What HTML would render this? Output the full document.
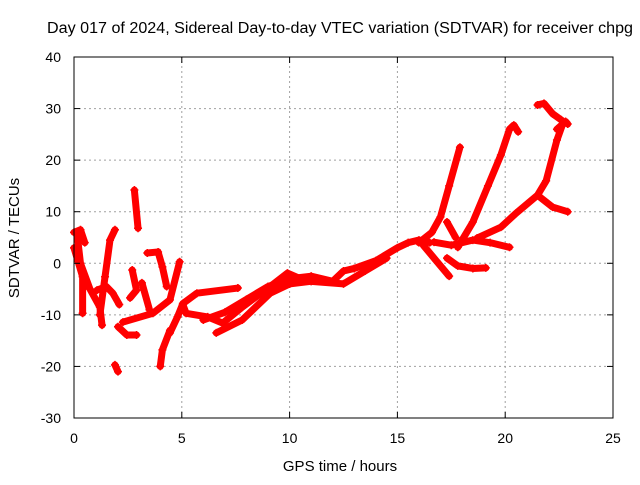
<!DOCTYPE html>
<html><head><meta charset="utf-8"><style>
body{margin:0;background:#fff}
text{font-family:"Liberation Sans",sans-serif;font-size:14px;fill:#000}
</style></head><body>
<svg id="c" width="640" height="480" xmlns="http://www.w3.org/2000/svg">
<rect width="640" height="480" fill="#fff"/>
<text x="47" y="33" textLength="586" lengthAdjust="spacingAndGlyphs" style="font-size:15.5px">Day 017 of 2024, Sidereal Day-to-day VTEC variation (SDTVAR) for receiver chpg</text>
<text x="340" y="471" text-anchor="middle" style="font-size:15px">GPS time / hours</text>
<text transform="translate(19,238) rotate(-90)" text-anchor="middle" style="font-size:15px">SDTVAR / TECUs</text>
<g id="grid"></g><g id="series"></g><g id="axes"></g>
</svg>
<script>
const xTicks=[0,5,10,15,20,25];
const yTicks=[-30,-20,-10,0,10,20,30,40];
const trackMain=[[6,-11],[7,-9.5],[8,-7],[9,-4.5],[10,-3],[11,-2.5],[12,-3.5],[12.5,-1.5],[13,-1],[14,0.5],[15,3],[15.5,4],[16,4.5],[16.5,4]];
const trackMain2=[[10,-4],[11,-3.5],[12.5,-4],[13.5,-1.5],[14.5,1]];
const trackUp1=[[16,4],[16.6,6],[17,9],[17.4,15],[17.9,22.5]];
const trackDown1=[[16.2,3.5],[16.8,0.5],[17.4,-2.5]];
const trackUp2=[[17.8,3.1],[18.5,8],[19.2,15],[19.8,21],[20.2,26],[20.4,26.8],[20.6,25.5]];
const trackFlat=[[16.7,4.1],[17.5,3.5],[18.5,4.5],[19.3,4],[20.2,3.1]];
const trackLow=[[17.3,1],[17.8,-0.5],[18.5,-1],[19.1,-0.9]];
const trackShort=[[17.3,8],[17.7,5]];
const trackUp3=[[18.7,4.9],[19.8,7],[20.5,9.7],[21.5,13.2],[21.9,16],[22.4,23.9],[22.7,27.4],[22.6,27.8],[22.2,29],[21.8,31],[21.5,30.7]];
const trackBranch=[[21.5,13.2],[22.2,10.9],[22.9,10]];
const trackHook=[[22.4,26],[22.8,27.5],[22.9,27]];
const trackL1=[[0.14,5.8],[0.3,0],[0.74,-5],[1.2,-8.5],[1.3,-12]];
const trackL2=[[0,3],[0.4,-2.6],[0.4,-9.7]];
const trackL3=[[1.07,-5.2],[1.5,-4.5],[1.8,-5.8],[2.1,-8]];
const trackL4=[[1.2,-10],[1.44,-2.6],[1.67,4.5],[1.9,6.5]];
const trackL5=[[2.8,14.2],[2.97,6.8]];
const trackL6=[[1.9,-19.7],[2.04,-21]];
const trackL7=[[2.04,-12.3],[2.45,-13.9],[2.9,-13.9]];
const trackL8=[[2.27,-11.4],[3.66,-9.7],[4.45,-7.1],[4.9,0.3]];
const trackL9=[[3.4,2],[3.9,2.2],[4.1,-0.7],[4.3,-4.5]];
const trackL10=[[2.7,-1.3],[2.9,-5.2],[2.6,-6.7]];
const trackL11=[[3.15,-3.8],[3.5,-9]];
const trackL12=[[4.45,-13],[4.1,-16.8],[4.0,-20]];
const trackL13=[[4.45,-13.5],[4.8,-10.4],[5.05,-7.8],[5.7,-5.8],[7.6,-4.8]];
const trackL14=[[5.05,-8],[5.2,-9.7],[6.2,-10.4],[6.9,-11.6],[7.8,-8.5],[9.1,-4.5],[9.9,-1.9],[10.5,-3]];
const trackL15=[[6.6,-13.5],[7.8,-11],[9.1,-5.8],[10,-4]];
const trackL16=[[0,6],[0.3,6.5],[0.5,4]];
const tracks=[trackMain,trackMain2,trackUp1,trackDown1,trackUp2,trackFlat,trackLow,trackShort,trackUp3,trackBranch,trackHook,trackL1,trackL2,trackL3,trackL4,trackL5,trackL6,trackL7,trackL8,trackL9,trackL10,trackL11,trackL12,trackL13,trackL14,trackL15,trackL16];
const X0=74,X1=613,Y0=418,Y1=57,xmin=0,xmax=25,ymin=-30,ymax=40;
const sx=v=>X0+(v-xmin)/(xmax-xmin)*(X1-X0);
const sy=v=>Y0-(v-ymin)/(ymax-ymin)*(Y0-Y1);
const NS="http://www.w3.org/2000/svg";
function mk(t,a,p){const e=document.createElementNS(NS,t);for(const k in a)e.setAttribute(k,a[k]);p.appendChild(e);return e;}
const G=document.getElementById('grid'),S=document.getElementById('series'),A=document.getElementById('axes');
xTicks.forEach(t=>{const x=sx(t);
 if(t>xmin&&t<xmax){const l=mk('line',{x1:x,y1:Y0,x2:x,y2:Y1,stroke:'#a0a0a0','stroke-dasharray':'2,3'},G);
 
 }
 mk('line',{x1:x,y1:Y0,x2:x,y2:Y0-6,stroke:'#000'},A);mk('line',{x1:x,y1:Y1,x2:x,y2:Y1+6,stroke:'#000'},A);
 const tx=mk('text',{x:x,y:Y0+25,'text-anchor':'middle'},A);tx.textContent=t;
 
 });
yTicks.forEach(t=>{const y=sy(t);
 if(t>ymin&&t<ymax){const l=mk('line',{x1:X0,y1:y,x2:X1,y2:y,stroke:'#a0a0a0','stroke-dasharray':'2,3'},G);
 
 }
 mk('line',{x1:X0,y1:y,x2:X0+6,y2:y,stroke:'#000'},A);mk('line',{x1:X1,y1:y,x2:X1-6,y2:y,stroke:'#000'},A);
 const tx=mk('text',{x:X0-13,y:y+5,'text-anchor':'end'},A);tx.textContent=t;
 
 });
const fr=mk('rect',{x:X0,y:Y1,width:X1-X0,height:Y0-Y1,fill:'none',stroke:'#000'},A);


tracks.forEach(tr=>{
 const pl=mk('polyline',{points:tr.map(p=>sx(p[0])+','+sy(p[1])).join(' '),fill:'none',stroke:'#f00','stroke-width':7,'stroke-linejoin':'round','stroke-linecap':'round'},S);
 
 
 tr.forEach(p=>{const x=sx(p[0]),y=sy(p[1]);
  const m=mk('path',{d:`M${x-4},${y}h8M${x},${y-4}v8`,stroke:'#f00','stroke-width':1.5},S);
  
  });
});
</script>
</body></html>
